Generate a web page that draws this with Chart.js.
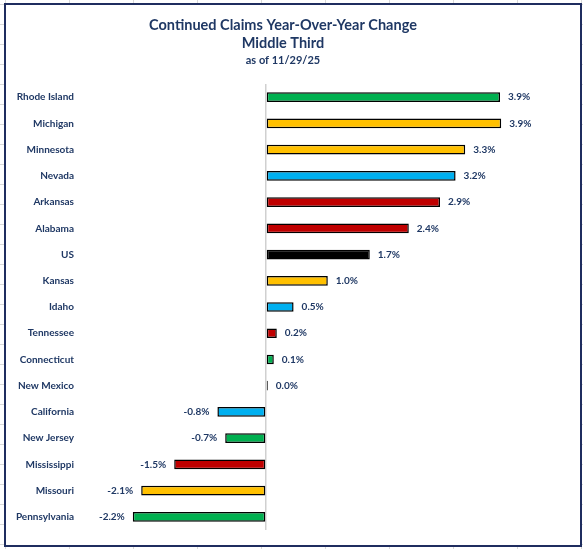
<!DOCTYPE html>
<html>
<head>
<meta charset="utf-8">
<script src="https://cdn.jsdelivr.net/npm/chart.js@4.4.1/dist/chart.umd.min.js"></script>
<style>
  html, body { margin: 0; padding: 0; }
  body {
    width: 583px; height: 549px; overflow: hidden; position: relative;
    background-color: #ffffff;
    background-image:
      linear-gradient(to right, #d9d9d9 1px, transparent 1px),
      linear-gradient(to bottom, #d9d9d9 1px, transparent 1px);
    background-size: 64px 20px;
    background-position: 5px 4px;
  }
  #frame {
    position: absolute; left: 4px; top: 3px; width: 578px; height: 544px;
    box-sizing: border-box; border: 2px solid #1F2D5F; background: #ffffff;
  }
  #wrap { position: absolute; left: 0; top: 0; width: 583px; height: 549px; }
</style>
</head>
<body>
<div id="frame"></div>
<div id="wrap"><canvas id="c" width="583" height="549"></canvas></div>
<script>
const categories = ["Rhode Island", "Michigan", "Minnesota", "Nevada", "Arkansas", "Alabama", "US", "Kansas", "Idaho", "Tennessee", "Connecticut", "New Mexico", "California", "New Jersey", "Mississippi", "Missouri", "Pennsylvania"];
const yoyChange = [3.9, 3.92, 3.32, 3.16, 2.9, 2.38, 1.73, 1.03, 0.46, 0.18, 0.13, 0.03, -0.81, -0.68, -1.53, -2.08, -2.22];
const barColors = ["#00B050", "#FFC000", "#FFC000", "#00B0F0", "#C00000", "#C00000", "#000000", "#FFC000", "#00B0F0", "#C00000", "#00B050", "#00B0F0", "#00B0F0", "#00B050", "#C00000", "#FFC000", "#00B050"];
const titleLines = ["Continued Claims Year-Over-Year Change", "Middle Third"];
const subtitleText = "as of 11/29/25";

const TEXT = "#1F3864";
const FONT = "Lato";

const dataLabels = {
  id: "dataLabels",
  afterDatasetsDraw(chart) {
    const ctx = chart.ctx;
    const meta = chart.getDatasetMeta(0);
    ctx.save();
    ctx.font = "bold 10px " + FONT;
    ctx.fillStyle = TEXT;
    ctx.textBaseline = "middle";
    meta.data.forEach((el, i) => {
      const v = chart.data.datasets[0].data[i];
      const txt = v.toFixed(1) + "%";
      if (v >= 0) {
        ctx.textAlign = "left";
        ctx.fillText(txt, el.x + 8, el.y);
      } else {
        ctx.textAlign = "right";
        ctx.fillText(txt, el.x - 8, el.y);
      }
    });
    ctx.restore();
  }
};

new Chart(document.getElementById("c"), {
  type: "bar",
  data: {
    labels: categories,
    datasets: [{
      data: yoyChange,
      backgroundColor: barColors,
      borderColor: "#000000",
      borderWidth: 1.5,
      borderSkipped: false,
      barPercentage: 0.37,
      categoryPercentage: 1.0
    }]
  },
  options: {
    indexAxis: "y",
    responsive: false,
    animation: false,
    layout: { padding: { left: 0, right: 17, top: 0, bottom: 19 } },
    plugins: {
      legend: { display: false },
      tooltip: { enabled: false },
      title: {
        display: true,
        text: titleLines,
        color: TEXT,
        font: { family: FONT, size: 14.5, weight: "bold", lineHeight: 1.27 },
        padding: { top: 16, bottom: 0 }
      },
      subtitle: {
        display: true,
        text: subtitleText,
        color: TEXT,
        font: { family: FONT, size: 11, weight: "bold", lineHeight: 1.2 },
        padding: { top: 1, bottom: 17 }
      }
    },
    scales: {
      x: {
        min: -3,
        max: 5,
        ticks: { display: false, stepSize: 1 },
        border: { display: false },
        grid: {
          drawTicks: false,
          lineWidth: 1.5,
          color: (c) => (c.tick && c.tick.value === 0 ? "#d0d0d0" : "rgba(0,0,0,0)")
        },
        afterFit(scale) { scale.height = 0; }
      },
      y: {
        border: { display: false },
        grid: { display: false, drawTicks: false },
        ticks: {
          color: TEXT,
          padding: 12,
          font: { family: FONT, size: 10, weight: "bold" }
        },
        afterFit(scale) { scale.width = 86; }
      }
    }
  },
  plugins: [dataLabels]
});
</script>
</body>
</html>
